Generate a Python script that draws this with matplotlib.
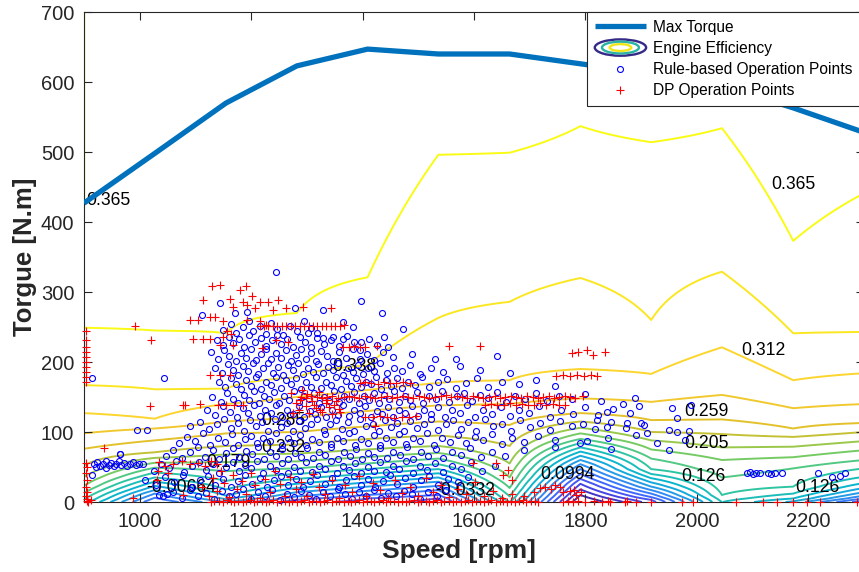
import numpy as np
import matplotlib
matplotlib.use('Agg')
import matplotlib.pyplot as plt
from matplotlib.colors import LinearSegmentedColormap
from matplotlib.legend_handler import HandlerBase
from matplotlib.patches import Ellipse
from matplotlib.lines import Line2D

plt.rcParams['font.family'] = ['Liberation Sans', 'DejaVu Sans']

# speed breakpoints of the engine map and full-load curve
speed = [900, 1027, 1155, 1282, 1409, 1536, 1664, 1791, 1918, 2045, 2173, 2300]
max_torque = [427, 498, 570, 623, 647, 640, 640, 626, 612, 595, 563, 528]

levels = [-0.166, -0.139, -0.113, -0.086, -0.060, -0.0332, -0.00664, 0.0199, 0.0465,
          0.0730, 0.0994, 0.126, 0.152, 0.179, 0.205, 0.232, 0.259, 0.285, 0.312, 0.338, 0.365]

# efficiency along each speed column: (torque, efficiency)
eff_900 = [(0, 0.11), (4, 0.126), (13, 0.152), (23, 0.179), (36, 0.205), (52, 0.232), (76, 0.259),
           (98, 0.285), (127, 0.312), (167, 0.338), (249, 0.365), (330, 0.372), (414, 0.365),
           (440, 0.3649), (700, 0.3649)]
eff_1027 = [(0, -0.06), (6, -0.0332), (12, -0.00664), (17, 0.0199), (23, 0.0465), (29, 0.073),
            (35, 0.0994), (42, 0.126), (49, 0.152), (56, 0.179), (63, 0.205), (71, 0.232), (88, 0.259),
            (105, 0.285), (119, 0.312), (161, 0.338), (245, 0.365), (450, 0.40), (700, 0.40)]
eff_1155 = [(0, 0.02), (4, 0.0465), (9, 0.073), (18, 0.0994), (30, 0.126), (44, 0.152), (57, 0.179),
            (68, 0.205), (80, 0.232), (98, 0.259), (115, 0.285), (140, 0.312), (162, 0.338),
            (241, 0.365), (700, 0.40)]
eff_1282 = [(0, -0.05), (3, -0.0332), (8, -0.00664), (14, 0.0199), (20, 0.0465), (26, 0.073),
            (33, 0.0994), (40, 0.126), (48, 0.152), (58, 0.179), (69, 0.205), (82, 0.232), (100, 0.259),
            (120, 0.285), (150, 0.312), (178, 0.338), (270, 0.365), (700, 0.40)]
eff_1409 = [(0, -0.07), (5, -0.060), (10, -0.0332), (16, -0.00664), (22, 0.0199), (28, 0.0465),
            (34, 0.073), (40, 0.0994), (47, 0.126), (55, 0.152), (64, 0.179), (75, 0.205), (90, 0.232),
            (108, 0.259), (130, 0.285), (160, 0.312), (195, 0.338), (321, 0.365), (700, 0.40)]
eff_1536 = [(0, -0.10), (5, -0.086), (10, -0.060), (17, -0.0332), (23, -0.00664), (29, 0.0199),
            (35, 0.0465), (41, 0.073), (47, 0.0994), (54, 0.126), (62, 0.152), (70, 0.179), (80, 0.205),
            (95, 0.232), (115, 0.259), (138, 0.285), (170, 0.312), (263, 0.338), (496, 0.365), (700, 0.40)]
eff_1664 = [(0, 0.10), (8, 0.126), (20, 0.152), (35, 0.179), (55, 0.205), (80, 0.232), (110, 0.259),
            (140, 0.285), (174, 0.312), (286, 0.338), (499, 0.365), (700, 0.40)]
eff_1791 = [(0, -0.20), (10, -0.166), (18, -0.139), (26, -0.113), (33, -0.086), (40, -0.060),
            (47, -0.0332), (54, -0.00664), (60, 0.0199), (66, 0.0465), (72, 0.073), (78, 0.0994),
            (84, 0.126), (90, 0.152), (98, 0.179), (106, 0.205), (115, 0.232), (127, 0.259),
            (148, 0.285), (190, 0.312), (320, 0.338), (537, 0.365), (700, 0.40)]
eff_1918 = [(0, -0.10), (3, -0.086), (7, -0.060), (12, -0.0332), (17, -0.00664), (22, 0.0199),
            (28, 0.0465), (34, 0.073), (40, 0.0994), (47, 0.126), (62, 0.152), (75, 0.179), (88, 0.205),
            (100, 0.232), (117, 0.259), (143, 0.285), (183, 0.312), (260, 0.338), (514, 0.365), (700, 0.40)]
eff_2045 = [(0, 0.10), (10, 0.126), (35, 0.152), (60, 0.179), (78, 0.205), (97, 0.232), (118, 0.259),
            (153, 0.285), (221, 0.312), (329, 0.338), (534, 0.365), (700, 0.40)]
eff_2173 = [(0, 0.04), (5, 0.073), (12, 0.0994), (22, 0.126), (48, 0.152), (64, 0.179), (79, 0.205),
            (93, 0.232), (105, 0.259), (134, 0.285), (174, 0.312), (241, 0.338), (373, 0.365), (700, 0.40)]
eff_2300 = [(0, -0.08), (2, -0.060), (5, -0.0332), (9, -0.00664), (14, 0.0199), (20, 0.0465),
            (27, 0.073), (36, 0.0994), (48, 0.126), (60, 0.152), (74, 0.179), (87, 0.205), (100, 0.232),
            (113, 0.259), (140, 0.285), (184, 0.312), (243, 0.338), (441, 0.365), (700, 0.40)]

label_text = ['0.365', '0.365', '0.338', '0.312', '0.285', '0.259', '0.232', '0.205', '0.179',
              '0.126', '0.126', '0.0994', '-0.0332', '-0.00664']
label_rpm = [943, 2174, 1386, 2119, 1257, 2018, 1257, 2018, 1159, 2011, 2216, 1767, 1584, 1074]
label_nm = [431, 453, 193, 217, 117, 129, 78, 84, 57, 36, 21, 39, 17, 20]

# rule-based operation points (rpm, N.m)
rb_points = [
    (1244, 329), (1398, 287), (1144, 284), (1279, 277), (1329, 274), (1434, 270), (1171, 270), (1193, 271),
    (1112, 267), (1365, 257), (1383, 250), (1473, 247), (1438, 236), (1446, 222), (1398, 229), (1302, 242),
    (1329, 234), (1347, 236), (1568, 204), (1642, 208), (1044, 177), (914, 177), (1395, 217), (1364, 233),
    (1150, 246), (1163, 255), (1172, 241), (1185, 250), (1196, 258), (1204, 244), (1215, 252), (1226, 240),
    (1236, 256), (1247, 247), (1258, 239), (1270, 252), (1283, 244), (1295, 258), (1308, 248), (1318, 241),
    (1138, 232), (1149, 224), (1160, 236), (1168, 227), (1179, 233), (1188, 222), (1196, 238), (1207, 229),
    (1218, 235), (1226, 223), (1237, 231), (1246, 238), (1254, 226), (1265, 233), (1276, 221), (1287, 236),
    (1296, 228), (1307, 222), (1318, 234), (1331, 226), (1344, 231), (1357, 223), (1372, 237), (1385, 228),
    (1412, 233), (1425, 224),
    (1128, 214), (1141, 205), (1152, 217), (1161, 208), (1173, 201), (1182, 213), (1191, 206), (1200, 218),
    (1209, 203), (1218, 211), (1227, 219), (1235, 204), (1244, 213), (1253, 206), (1262, 217), (1271, 201),
    (1280, 210), (1289, 218), (1298, 205), (1307, 213), (1316, 202), (1325, 216), (1336, 208), (1347, 201),
    (1358, 214), (1370, 206), (1383, 218), (1396, 204), (1408, 212), (1421, 203), (1437, 214), (1455, 207),
    (1489, 212), (1530, 205),
    (1135, 192), (1147, 184), (1158, 197), (1167, 188), (1176, 181), (1185, 195), (1194, 187), (1203, 199),
    (1212, 183), (1221, 191), (1230, 198), (1239, 185), (1248, 193), (1257, 182), (1266, 196), (1275, 189),
    (1284, 199), (1293, 183), (1302, 192), (1311, 186), (1320, 197), (1329, 184), (1338, 193), (1347, 188),
    (1356, 198), (1365, 182), (1374, 191), (1383, 186), (1392, 196), (1401, 183), (1410, 192), (1421, 187),
    (1432, 198), (1444, 184), (1456, 192), (1470, 187), (1486, 196), (1503, 183), (1522, 191), (1545, 186),
    (1575, 194), (1610, 188), (1665, 185),
    (1142, 171), (1153, 164), (1163, 177), (1172, 168), (1181, 161), (1190, 175), (1199, 166), (1208, 178),
    (1217, 162), (1226, 172), (1235, 167), (1244, 179), (1253, 163), (1262, 174), (1271, 168), (1280, 177),
    (1289, 161), (1298, 171), (1307, 165), (1316, 178), (1325, 163), (1334, 172), (1343, 167), (1352, 179),
    (1361, 162), (1370, 173), (1379, 166), (1388, 177), (1397, 164), (1406, 171), (1415, 168), (1424, 178),
    (1433, 161), (1442, 174), (1451, 166), (1461, 177), (1471, 163), (1482, 172), (1494, 167), (1507, 178),
    (1520, 164), (1535, 171), (1551, 176), (1568, 163), (1586, 170), (1605, 177), (1626, 165), (1650, 172),
    (1680, 168), (1712, 175), (1745, 166),
    (1130, 150), (1145, 143), (1157, 156), (1167, 147), (1177, 141), (1187, 153), (1196, 146), (1205, 158),
    (1214, 142), (1223, 151), (1232, 147), (1241, 157), (1250, 141), (1259, 152), (1268, 146), (1277, 158),
    (1286, 143), (1295, 151), (1304, 147), (1313, 156), (1322, 141), (1331, 150), (1340, 145), (1349, 158),
    (1358, 143), (1367, 152), (1376, 147), (1385, 157), (1394, 142), (1403, 151), (1412, 146), (1421, 156),
    (1430, 141), (1439, 153), (1448, 147), (1457, 158), (1466, 143), (1476, 151), (1486, 146), (1497, 157),
    (1508, 142), (1519, 152), (1531, 147), (1543, 158), (1556, 143), (1569, 151), (1582, 156), (1596, 145),
    (1610, 153), (1625, 148), (1641, 157), (1657, 143), (1674, 151), (1692, 147), (1711, 156), (1731, 144),
    (1752, 152), (1775, 147), (1800, 155), (1828, 145),
    (1120, 131), (1136, 124), (1150, 137), (1162, 128), (1174, 121), (1185, 134), (1195, 127), (1205, 139),
    (1215, 123), (1225, 132), (1235, 127), (1245, 138), (1255, 122), (1265, 131), (1275, 126), (1285, 137),
    (1295, 121), (1305, 130), (1315, 126), (1325, 136), (1335, 122), (1345, 131), (1355, 125), (1365, 138),
    (1375, 123), (1385, 132), (1395, 127), (1405, 137), (1415, 121), (1425, 130), (1435, 126), (1445, 136),
    (1455, 122), (1466, 132), (1477, 127), (1488, 137), (1499, 123), (1511, 131), (1523, 126), (1535, 136),
    (1548, 122), (1561, 132), (1574, 127), (1588, 138), (1602, 122), (1617, 131), (1632, 126), (1648, 136),
    (1664, 123), (1681, 132), (1699, 127), (1717, 137), (1736, 122), (1756, 131), (1777, 126), (1799, 136),
    (1823, 124), (1850, 133), (1880, 127), (1955, 135), (1990, 139),
    (995, 103), (1013, 103), (1090, 108), (1108, 115), (1124, 104), (1139, 112), (1152, 118), (1164, 106),
    (1176, 113), (1187, 101), (1198, 117), (1209, 108), (1220, 114), (1231, 102), (1242, 118), (1253, 107),
    (1264, 113), (1275, 101), (1286, 116), (1297, 106), (1308, 112), (1319, 119), (1330, 103), (1341, 111),
    (1352, 117), (1363, 105), (1374, 114), (1385, 101), (1396, 118), (1407, 108), (1418, 112), (1429, 102),
    (1440, 117), (1451, 107), (1462, 113), (1474, 101), (1486, 116), (1498, 106), (1510, 112), (1523, 119),
    (1536, 103), (1549, 111), (1562, 117), (1576, 105), (1590, 114), (1604, 101), (1619, 118), (1634, 108),
    (1650, 112), (1666, 102), (1683, 117), (1700, 107), (1718, 113), (1736, 103), (1755, 116), (1775, 108),
    (1796, 112), (1818, 104), (1845, 114), (1872, 106), (1905, 110), (1950, 103), (1985, 101),
    (1070, 85), (1084, 93), (1099, 87), (1113, 98), (1127, 82), (1140, 91), (1153, 86), (1165, 97),
    (1177, 81), (1189, 90), (1200, 95), (1211, 84), (1222, 92), (1233, 87), (1244, 98), (1255, 82),
    (1266, 91), (1277, 85), (1288, 96), (1299, 81), (1310, 90), (1321, 86), (1332, 97), (1343, 83),
    (1354, 92), (1365, 87), (1376, 98), (1387, 81), (1398, 90), (1409, 85), (1420, 96), (1431, 82),
    (1442, 91), (1454, 86), (1466, 97), (1478, 83), (1490, 92), (1503, 87), (1516, 98), (1529, 82),
    (1543, 91), (1557, 86), (1571, 96), (1586, 84), (1601, 93), (1617, 88), (1633, 97), (1650, 83),
    (1668, 91), (1690, 86), (1715, 95), (1745, 88), (1790, 84), (1840, 92), (1890, 96),
    (965, 69), (1048, 66), (1060, 75), (1075, 63), (1090, 72), (1104, 78), (1118, 65), (1131, 74),
    (1143, 61), (1155, 70), (1167, 77), (1179, 64), (1190, 73), (1201, 68), (1212, 78), (1223, 62),
    (1234, 71), (1245, 66), (1256, 76), (1267, 61), (1278, 70), (1289, 65), (1300, 77), (1311, 63),
    (1322, 72), (1333, 67), (1344, 78), (1355, 62), (1366, 71), (1377, 66), (1388, 76), (1399, 61),
    (1410, 70), (1421, 65), (1432, 77), (1443, 63), (1455, 72), (1467, 67), (1479, 78), (1491, 62),
    (1504, 71), (1517, 66), (1531, 76), (1545, 63), (1560, 72), (1576, 67), (1593, 77), (1612, 64),
    (1632, 71), (1655, 66), (1690, 74), (1745, 78),
    (1025, 45), (1038, 55), (1052, 48), (1066, 58), (1080, 43), (1093, 52), (1106, 57), (1119, 46),
    (1131, 54), (1143, 41), (1155, 50), (1167, 57), (1178, 44), (1189, 53), (1200, 48), (1211, 58),
    (1222, 42), (1233, 51), (1244, 46), (1255, 56), (1266, 41), (1277, 50), (1288, 45), (1299, 57),
    (1310, 43), (1321, 52), (1332, 47), (1343, 58), (1354, 42), (1365, 51), (1376, 46), (1387, 56),
    (1398, 41), (1409, 50), (1420, 45), (1431, 57), (1442, 43), (1454, 52), (1466, 47), (1478, 58),
    (1490, 42), (1503, 51), (1516, 46), (1530, 56), (1545, 43), (1560, 52), (1577, 47), (1595, 57),
    (1615, 44), (1637, 52),
    (918, 54), (924, 57), (929, 52), (934, 55), (939, 58), (944, 53), (948, 56), (953, 51), (958, 55),
    (962, 58), (967, 53), (972, 56), (977, 52), (982, 55), (988, 57), (993, 53), (999, 55), (1005, 54),
    (921, 50), (940, 49), (914, 38), (965, 69),
    (1889, 148), (1896, 137), (1868, 140), (1964, 120), (1964, 100), (1979, 89), (1929, 84), (1950, 75),
    (1846, 76), (1803, 87), (1838, 107), (1820, 117), (1838, 129), (1875, 113), (1900, 113), (1911, 99),
    (2090, 41), (2096, 43), (2101, 40), (2107, 42), (2113, 41), (2127, 42), (2133, 40), (2140, 42),
    (2153, 41), (2218, 41), (2243, 36), (2257, 37), (2266, 41),
    (1010, 32), (1030, 24), (1046, 36), (1062, 28), (1078, 38), (1093, 22), (1108, 31), (1122, 37),
    (1136, 25), (1150, 33), (1163, 21), (1176, 30), (1189, 38), (1202, 26), (1215, 34), (1228, 22),
    (1241, 31), (1254, 37), (1267, 25), (1280, 33), (1293, 21), (1306, 30), (1319, 38), (1332, 26),
    (1345, 34), (1358, 22), (1371, 31), (1384, 37), (1397, 25), (1410, 33), (1423, 21), (1436, 30),
    (1449, 38), (1462, 26), (1476, 34), (1490, 22), (1505, 31), (1520, 37), (1536, 25), (1553, 33),
    (1571, 28), (1590, 36),
    (1035, 10), (1042, 8), (1049, 11), (1060, 14), (1075, 6), (1090, 17), (1105, 9), (1119, 13),
    (1133, 4), (1147, 16), (1160, 8), (1173, 12), (1186, 18), (1199, 5), (1212, 14), (1225, 9),
    (1238, 17), (1251, 3), (1264, 12), (1277, 7), (1290, 16), (1303, 10), (1316, 4), (1329, 14),
    (1342, 8), (1355, 18), (1368, 11), (1381, 5), (1394, 15), (1407, 9), (1420, 17), (1433, 6),
    (1446, 13), (1460, 8), (1474, 16), (1488, 11), (1503, 4), (1518, 14), (1534, 9), (1550, 17),
]

# DP operation points (rpm, N.m)
dp_points = [
    (903, 245), (903, 232), (903, 221), (903, 214), (903, 207), (903, 200), (903, 193), (903, 186),
    (903, 178), (903, 171), (905, 2), (905, 5), (903, 9), (906, 14), (903, 22), (905, 31), (903, 42),
    (905, 50), (903, 56), (908, 0), (913, 3), (992, 251), (1020, 231), (1018, 137), (1078, 139),
    (936, 77), (988, 6), (1031, 31), (1078, 10), (1033, 44), (1050, 41),
    (1035, 57), (1045, 52), (1060, 55), (1075, 58), (1090, 54), (1105, 56), (1118, 52), (1128, 58), (1138, 55),
    (1129, 308), (1144, 310), (1180, 303), (1190, 308), (1114, 288), (1162, 290), (1186, 286), (1201, 294),
    (1215, 286), (1230, 286), (1248, 289), (1168, 279), (1192, 282), (1207, 277), (1239, 275), (1263, 277),
    (1293, 279), (1344, 277), (1090, 260), (1105, 260), (1126, 264), (1135, 264), (1150, 258), (1192, 260),
    (1215, 258), (1227, 253),
    (1215, 252), (1223, 251), (1231, 252), (1239, 251), (1247, 252), (1255, 252), (1263, 251), (1271, 252),
    (1279, 251), (1287, 252), (1295, 252), (1303, 251), (1311, 252), (1319, 252), (1327, 251), (1335, 252),
    (1343, 252), (1351, 251), (1359, 252), (1367, 253),
    (1096, 233), (1114, 233), (1126, 233), (1150, 236), (1168, 225), (1144, 225), (1219, 220), (1245, 232),
    (1266, 229), (1156, 245), (1163, 240),
    (1365, 222), (1375, 222), (1385, 223), (1395, 222), (1405, 222), (1425, 223), (1556, 223), (1610, 223),
    (1775, 213), (1802, 217), (1813, 210), (1786, 214), (1835, 214),
    (1126, 182), (1144, 182), (1162, 182), (1081, 139), (1108, 140), (1141, 139), (1155, 139), (1170, 139),
    (1186, 139),
    (1395, 170), (1405, 171), (1416, 170), (1427, 169), (1438, 171), (1449, 170), (1460, 170), (1472, 171),
    (1485, 170), (1748, 180), (1760, 181), (1772, 180), (1785, 181), (1797, 180), (1810, 181), (1821, 180),
    (1290, 150), (1299, 149), (1308, 151), (1318, 150), (1327, 148), (1337, 150), (1346, 151), (1356, 149),
    (1366, 150), (1375, 152), (1385, 150), (1394, 149), (1404, 151), (1414, 150), (1423, 148), (1433, 150),
    (1443, 151), (1452, 149), (1462, 150), (1472, 152), (1481, 150), (1491, 149), (1501, 151), (1511, 150),
    (1520, 148), (1530, 150), (1540, 151), (1549, 153), (1559, 150), (1569, 152), (1578, 150), (1588, 149),
    (1598, 151), (1608, 150), (1617, 148), (1627, 150), (1637, 151), (1646, 149), (1656, 150), (1666, 152),
    (1675, 150), (1685, 149), (1695, 151), (1705, 150), (1714, 148), (1724, 150), (1734, 151), (1743, 149),
    (1753, 150), (1763, 152), (1772, 150), (1782, 149), (1795, 151),
    (1620, 139), (1631, 140), (1642, 138), (1653, 139), (1664, 141), (1675, 139), (1686, 140), (1697, 138),
    (1708, 139), (1719, 141), (1730, 139), (1741, 140), (1752, 139), (1763, 138),
    (1272, 156), (1280, 142), (1286, 131), (1292, 160), (1298, 137), (1304, 127), (1310, 145), (1316, 134),
    (1322, 157), (1328, 129), (1334, 141), (1340, 136), (1346, 126), (1352, 144), (1358, 133), (1276, 127),
    (1288, 146), (1300, 154), (1312, 139), (1324, 131), (1336, 146), (1348, 138), (1360, 128),
    (1405, 122), (1418, 121), (1431, 123), (1444, 122), (1457, 120), (1470, 122), (1483, 121), (1496, 123),
    (1422, 109), (1598, 56), (1640, 56), (1661, 46), (1652, 38), (1668, 31),
    (1128, 0), (1134, 2), (1143, 1), (1149, 0), (1156, 3), (1164, 1), (1169, 0), (1177, 2), (1185, 0),
    (1190, 1), (1198, 3), (1206, 0), (1211, 1), (1219, 2), (1227, 0), (1232, 1), (1240, 3), (1247, 0),
    (1253, 2), (1261, 1), (1268, 0), (1274, 2), (1282, 0), (1289, 1), (1295, 3), (1303, 0), (1310, 1),
    (1316, 2), (1324, 0), (1331, 1), (1337, 3), (1345, 0), (1352, 2), (1358, 1), (1366, 0), (1373, 2),
    (1379, 0), (1387, 1), (1394, 3), (1400, 0), (1408, 1), (1415, 2), (1421, 0), (1429, 1), (1436, 3),
    (1442, 0), (1450, 2), (1457, 1), (1463, 0), (1471, 2), (1478, 0), (1484, 1), (1492, 3), (1499, 0),
    (1505, 1), (1513, 2), (1520, 0), (1526, 1), (1534, 3), (1541, 0), (1547, 2), (1555, 1), (1562, 0),
    (1568, 2), (1576, 0), (1583, 1), (1589, 3), (1597, 0), (1604, 1), (1610, 2), (1618, 0), (1625, 1),
    (1631, 3), (1639, 0), (1646, 2), (1652, 1), (1660, 0), (1667, 2), (1673, 0), (1681, 1), (1688, 3),
    (1694, 0), (1702, 1), (1709, 2), (1715, 0),
    (1760, 0), (1769, 1), (1778, 0), (1787, 2), (1800, 0), (1815, 1), (1830, 0), (1841, 1), (1844, 0),
    (1871, 0), (1874, 1), (1890, 0), (1918, 0), (1973, 0), (1993, 0), (2070, 0), (2119, 0), (2144, 0),
    (2173, 0), (2198, 0), (2221, 0), (2288, 0),
    (1760, 14), (1772, 16), (1780, 17), (1792, 15), (1783, 10), (1718, 20), (1728, 22), (1738, 19),
    (1746, 24), (1754, 21),
    (1112, 22), (1124, 9), (1131, 35), (1139, 16), (1146, 44), (1152, 27), (1160, 7), (1167, 38),
    (1175, 19), (1183, 30), (1191, 12), (1199, 41), (1207, 24), (1216, 6), (1224, 33), (1233, 15),
    (1242, 45), (1251, 26), (1260, 9), (1270, 36), (1280, 18), (1290, 29), (1300, 8), (1311, 40),
    (1322, 21), (1333, 12), (1345, 32), (1357, 6), (1369, 24), (1381, 14), (1394, 37), (1406, 9),
    (1419, 27), (1432, 17), (1445, 6), (1458, 31), (1471, 13), (1485, 22), (1499, 8), (1513, 35),
    (1527, 15), (1541, 25), (1556, 7), (1571, 19), (1586, 11), (1602, 28), (1618, 8), (1634, 16),
    (1651, 6), (1668, 12), (1690, 9), (1707, 14),
]

# ---- efficiency grid built from the column profiles ----
columns = [eff_900, eff_1027, eff_1155, eff_1282, eff_1409, eff_1536, eff_1664, eff_1791,
           eff_1918, eff_2045, eff_2173, eff_2300]
torque_grid = np.arange(0, 701, 1.0)
Z = np.column_stack([np.interp(torque_grid, [p[0] for p in c], [p[1] for p in c]) for c in columns])

parula = LinearSegmentedColormap.from_list('parula', [
    (0.2422, 0.1504, 0.6603), (0.2803, 0.2782, 0.9221), (0.2440, 0.4358, 0.9988),
    (0.1540, 0.5902, 0.9218), (0.0297, 0.7082, 0.8163), (0.1938, 0.7758, 0.6251),
    (0.5044, 0.7993, 0.3480), (0.8634, 0.7406, 0.1596), (0.9892, 0.8136, 0.1885),
    (0.9769, 0.9839, 0.0805)])


class HandlerRings(HandlerBase):
    def create_artists(self, legend, orig_handle, xdescent, ydescent, width, height, fontsize, trans):
        cx = width / 2 - xdescent
        cy = height / 2 - ydescent
        arts = []
        for f, c in zip([1.0, 0.72, 0.42], ['#352A87', '#2AB3A5', '#F2E51A']):
            arts.append(Ellipse((cx, cy), width * f, height * 1.5 * f, fill=False,
                                edgecolor=c, lw=1.7, transform=trans))
        return arts


fig = plt.figure(figsize=(8.59, 5.72), dpi=100)
ax = fig.add_axes([84 / 859, 70 / 572, 780 / 859, 490 / 572])

ax.contour(speed, torque_grid, Z, levels=levels, cmap=parula, vmin=levels[0], vmax=levels[-1],
           linewidths=1.4, zorder=1)
for s, x, y in zip(label_text, label_rpm, label_nm):
    ax.text(x, y, s, fontsize=12.7, ha='center', va='center', color='black', zorder=2)

line_max, = ax.plot(speed, max_torque, color='#0072BD', lw=3.8, zorder=3, solid_capstyle='butt')
rb_rpm = [p[0] for p in rb_points]
rb_nm = [p[1] for p in rb_points]
dp_rpm = [p[0] for p in dp_points]
dp_nm = [p[1] for p in dp_points]
line_rb, = ax.plot(rb_rpm, rb_nm, ls='none', marker='o', mfc='none', mec='#0000FF', ms=4.3,
                   mew=0.8, zorder=4, clip_on=False)
line_dp, = ax.plot(dp_rpm, dp_nm, ls='none', marker='+', color='#FF0000', ms=6, mew=0.8,
                   zorder=5, clip_on=False)

ax.set_xlim(900, 2300)
ax.set_ylim(0, 700)
ax.set_xticks([1000, 1200, 1400, 1600, 1800, 2000, 2200])
ax.set_yticks([0, 100, 200, 300, 400, 500, 600, 700])
ax.tick_params(direction='in', length=6, width=0.8, top=True, right=True, labelsize=14.5,
               colors='#262626', pad=7)
for sp in ax.spines.values():
    sp.set_color('#262626')
    sp.set_linewidth(0.8)

ax.set_xlabel('Speed [rpm]', fontsize=19, fontweight='bold', color='#262626')
ax.set_ylabel('Torgue [N.m]', fontsize=18.5, fontweight='bold', color='#262626')
ax.xaxis.set_label_coords((459 - 84) / 780, -37 / 490)
ax.yaxis.set_label_coords((25 - 84) / 780, 0.5)
ax.xaxis.label.set_va('top')
ax.yaxis.label.set_va('center')

eff_proxy = Line2D([], [])
leg = fig.legend([line_max, eff_proxy, line_rb, line_dp],
                 ['Max Torque', 'Engine Efficiency', 'Rule-based Operation Points', 'DP Operation Points'],
                 handler_map={eff_proxy: HandlerRings()}, loc='upper left',
                 bbox_to_anchor=(587 / 859, 1 - 12 / 572), bbox_transform=fig.transFigure,
                 borderaxespad=0, fontsize=11.2, handlelength=3.3, handletextpad=0.45,
                 borderpad=0.5, labelspacing=0.4, numpoints=1, fancybox=False, framealpha=1,
                 edgecolor='#262626')
leg.get_frame().set_linewidth(0.8)
leg.set_zorder(10)

fig.savefig('out.png', dpi=100)
